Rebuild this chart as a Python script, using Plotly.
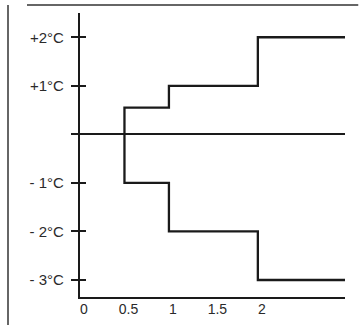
import plotly.graph_objects as go

# Data
upper_x = [0.5, 0.5, 1.0, 1.0, 2.0, 2.0, 3.0]
upper_y = [0.0, 0.55, 0.55, 1.0, 1.0, 2.0, 2.0]
lower_x = [0.5, 0.5, 1.0, 1.0, 2.0, 2.0, 3.0]
lower_y = [0.0, -1.0, -1.0, -2.0, -2.0, -3.0, -3.0]

x_tick_vals = [0, 0.5, 1, 1.5, 2]
x_tick_text = ["0", "0.5", "1", "1.5", "2"]
y_tick_vals = [-3, -2, -1, 0, 1, 2]
y_tick_text = ["- 3°C", "- 2°C", "- 1°C", "", "+1°C", "+2°C"]

LINE = "#1a1a1a"
TEXT = "#2a2a2a"
FONT = "Liberation Sans, Arial, sans-serif"

fig = go.Figure()
for xs, ys in [(upper_x, upper_y), (lower_x, lower_y)]:
    fig.add_trace(go.Scatter(x=xs, y=ys, mode="lines",
                             line=dict(color=LINE, width=2.3),
                             hoverinfo="skip", showlegend=False))

yr = [-3.35, 2.5]
fig.update_layout(
    width=359, height=325,
    margin=dict(l=80, r=14, t=13, b=28, autoexpand=False),
    paper_bgcolor="white", plot_bgcolor="white",
    font=dict(family=FONT, size=14, color=TEXT),
    xaxis=dict(range=[0, 2.98], tickvals=x_tick_vals, ticktext=x_tick_text,
               showgrid=False, zeroline=False, showline=True, automargin=False,
               linecolor=LINE, linewidth=2.3, ticks="", ticklabelshift=4,
               ticklabelstandoff=-2,
               tickfont=dict(family=FONT, size=14, color=TEXT)),
    yaxis=dict(range=yr, tickvals=y_tick_vals, ticktext=y_tick_text,
               showgrid=False, zeroline=True, zerolinecolor=LINE, zerolinewidth=2.3,
               showline=True, linecolor=LINE, linewidth=2.3, automargin=False,
               ticks="outside", ticklen=7, tickwidth=2.3, tickcolor=LINE,
               ticklabelstandoff=4,
               tickfont=dict(family=FONT, size=15, color=TEXT)),
    yaxis2=dict(range=yr, tickvals=y_tick_vals, overlaying="y", side="left",
                anchor="x", showticklabels=False, showgrid=False, zeroline=False,
                showline=False, ticks="inside", ticklen=6, tickwidth=2.3,
                tickcolor=LINE, automargin=False),
    shapes=[
        dict(type="line", xref="paper", yref="paper", x0=-0.2, x1=1.05,
             y0=1.0 + 8 / 284, y1=1.0 + 8 / 284, line=dict(color="#333", width=1.5)),
        dict(type="line", xref="paper", yref="paper", x0=-72 / 265, x1=-72 / 265,
             y0=-0.2, y1=1.0 + 8 / 284, line=dict(color="#333", width=1.5)),
    ],
)
# dummy trace to activate yaxis2
fig.add_trace(go.Scatter(x=[None], y=[None], yaxis="y2", showlegend=False, hoverinfo="skip"))

fig.write_html("out.html", config={"displayModeBar": False},
               post_script="document.body.style.margin='0';document.body.style.overflow='hidden';")
